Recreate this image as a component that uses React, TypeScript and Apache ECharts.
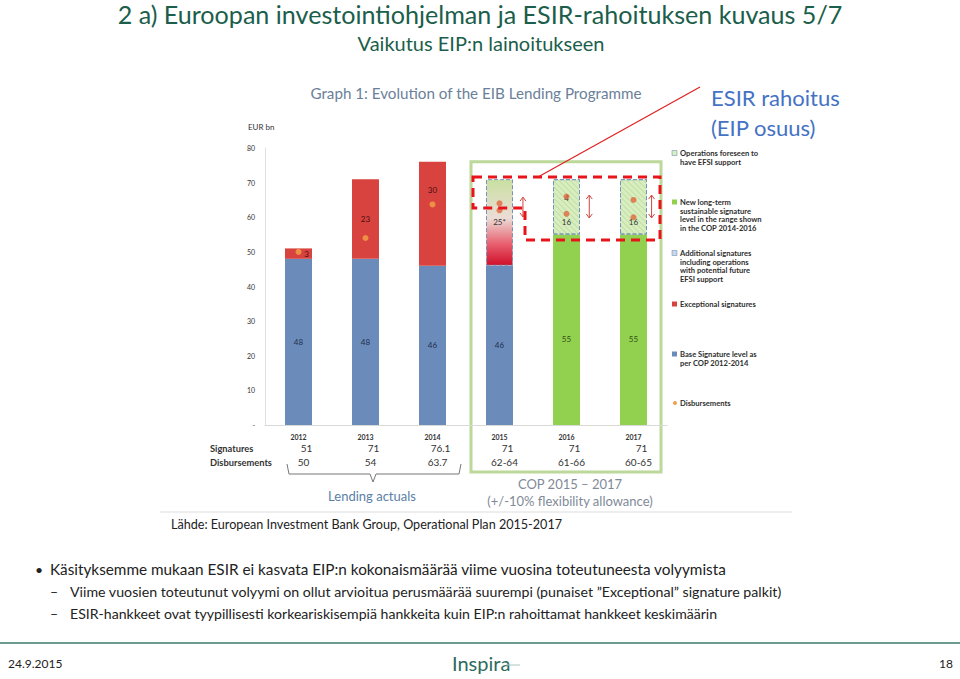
import React, { useEffect, useRef } from "react";
import * as echarts from "echarts";

const years = ["2012", "2013", "2014", "2015", "2016", "2017"];
const baseLevel = [48, 48, 46, 46, null, null];
const newLongTerm = [null, null, null, null, 55, 55];
const exceptional = [3, 23, 30, null, null, null];
const additional = [null, null, null, 25, null, null];
const foreseen = [null, null, null, null, 16, 16];
const disbursementPoints: [number, number][] = [
  [0, 50], [1, 54], [2, 63.7], [3, 62], [3, 64], [4, 61], [4, 66], [5, 60], [5, 65],
];
const signaturesRow = ["51", "71", "76.1", "71", "71", "71"];
const disbursementsRow = ["50", "54", "63.7", "62-64", "61-66", "60-65"];
const yTicks = [0, 10, 20, 30, 40, 50, 60, 70, 80];

const FONT = "Lato, 'Open Sans', sans-serif";
const GL = 265, GT = 148, GW = 402, GH = 277;
const px = (i: number) => GL + GW / 6 / 2 + (GW / 6) * i;
const py = (v: number) => GT + GH - (v / 80) * GH;

function txt(text: string, x: number, y: number, size: number, fill: string, opts: any = {}) {
  return {
    type: "text",
    x,
    y,
    silent: true,
    style: {
      text,
      fill,
      fontSize: size,
      fontFamily: opts.family || FONT,
      fontWeight: opts.weight || "normal",
      textAlign: opts.align || "left",
      textVerticalAlign: "middle",
    },
  };
}

function arrow(i: number, v1: number, v2: number) {
  const x = px(i);
  const y1 = py(v2), y2 = py(v1);
  const c = "#d0453f";
  return [
    { type: "line", shape: { x1: x, y1, x2: x, y2 }, style: { stroke: c, lineWidth: 1 } },
    { type: "polyline", shape: { points: [[x - 3, y1 + 4], [x, y1], [x + 3, y1 + 4]] }, style: { stroke: c, lineWidth: 1, fill: "none" } },
    { type: "polyline", shape: { points: [[x - 3, y2 - 4], [x, y2], [x + 3, y2 - 4]] }, style: { stroke: c, lineWidth: 1, fill: "none" } },
  ];
}

export default function App() {
  const ref = useRef<HTMLDivElement>(null);
  useEffect(() => {
    if (!ref.current) return;
    const chart = echarts.init(ref.current, null, { renderer: "svg" });
    const hatchDecal = {
      symbol: "rect",
      symbolSize: 1,
      color: "rgba(110,170,60,0.22)",
      dashArrayX: [1, 0],
      dashArrayY: [1, 2.5],
      rotation: Math.PI / 4,
    };
    const dashedBorder = { borderColor: "#7593b8", borderType: "dashed", borderWidth: 1 };

    const legendItems: { lines: string[]; y: number; marker: any }[] = [
      { lines: ["Operations foreseen to", "have EFSI support"], y: 153, marker: { fill: "#d8eec0", stroke: "#7593b8" } },
      { lines: ["New long-term", "sustainable signature", "level in the range shown", "in the COP 2014-2016"], y: 202, marker: { fill: "#92d050" } },
      { lines: ["Additional signatures", "including operations", "with potential future", "EFSI support"], y: 253, marker: { fill: "#c9d6ea", stroke: "#7593b8" } },
      { lines: ["Exceptional signatures"], y: 304, marker: { fill: "#d9433f" } },
      { lines: ["Base Signature level as", "per COP 2012-2014"], y: 354, marker: { fill: "#6b8cba" } },
      { lines: ["Disbursements"], y: 403, marker: { fill: "#f0a050", circle: true } },
    ];
    const legendGraphics: any[] = [];
    legendItems.forEach((it) => {
      if (it.marker.circle) {
        legendGraphics.push({ type: "circle", shape: { cx: 675, cy: it.y, r: 2 }, style: { fill: it.marker.fill } });
      } else {
        legendGraphics.push({
          type: "rect",
          shape: { x: 672, y: it.y - 2.5, width: 5, height: 5 },
          style: { fill: it.marker.fill, stroke: it.marker.stroke || null, lineWidth: 0.6 },
        });
      }
      it.lines.forEach((l, k) => legendGraphics.push(txt(l, 680, it.y + k * 8.6, 7.6, "#2e2e2e", { weight: "bold" })));
    });

    const tableGraphics: any[] = [];
    tableGraphics.push(txt("Signatures", 210, 448, 9.3, "#333", { weight: "bold" }));
    tableGraphics.push(txt("Disbursements", 210, 462, 9.3, "#333", { weight: "bold" }));
    years.forEach((_, i) => {
      tableGraphics.push(txt(signaturesRow[i], px(i) + 8, 448, 10, "#333", { align: "center" }));
      tableGraphics.push(txt(disbursementsRow[i], px(i) + 5, 462, 10, "#333", { align: "center" }));
    });

    const esirPoly = [
      [473, py(71.6)], [660, py(71.6)], [660, py(53.4)], [525, py(53.4)], [525, py(62.7)], [473, py(62.7)],
    ];

    chart.setOption({
      animation: false,
      backgroundColor: "#ffffff",
      grid: { left: GL, top: GT, width: GW, height: GH },
      xAxis: {
        type: "category",
        data: years,
        axisLine: { lineStyle: { color: "#d9d9d9" } },
        axisTick: { show: false },
        axisLabel: { fontSize: 7, fontWeight: "bold", color: "#333", fontFamily: FONT, margin: 8 },
      },
      yAxis: {
        type: "value",
        min: 0,
        max: 80,
        interval: 10,
        axisLine: { show: true, lineStyle: { color: "#e0e0e0" } },
        splitLine: { show: false },
        axisTick: { show: false },
        axisLabel: {
          fontSize: 7,
          color: "#333",
          fontFamily: FONT,
          margin: 10,
          formatter: (v: number) => (v === 0 ? "-" : yTicks.includes(v) ? String(v) : ""),
        },
      },
      series: [
        {
          name: "Base Signature level as per COP 2012-2014",
          type: "bar",
          stack: "t",
          barWidth: 27,
          data: baseLevel,
          itemStyle: { color: "#6b8cba" },
          label: { show: true, position: "inside", fontSize: 8, color: "#1f2f50", fontFamily: FONT },
        },
        {
          name: "New long-term sustainable signature level",
          type: "bar",
          stack: "t",
          barWidth: 27,
          data: newLongTerm,
          itemStyle: { color: "#92d050" },
          label: { show: true, position: "inside", offset: [0, 9], fontSize: 8, color: "#2f4f10", fontFamily: FONT },
        },
        {
          name: "Exceptional signatures",
          type: "bar",
          stack: "t",
          barWidth: 27,
          data: exceptional.map((v, i) =>
            v == null
              ? null
              : {
                  value: v,
                  label: { offset: i === 0 ? [8, 0] : i === 2 ? [0, -24] : [0, 0] },
                }
          ),
          itemStyle: { color: "#d9433f" },
          label: { show: true, position: "inside", fontSize: 8, color: "#4a1010", fontFamily: FONT },
        },
        {
          name: "Additional signatures",
          type: "bar",
          stack: "t",
          barWidth: 27,
          data: additional,
          itemStyle: {
            ...dashedBorder,
            color: {
              type: "linear",
              x: 0, y: 0, x2: 0, y2: 1,
              colorStops: [
                { offset: 0, color: "#c9e0a2" },
                { offset: 0.45, color: "#ecdcd6" },
                { offset: 0.75, color: "#e86070" },
                { offset: 1, color: "#d0102a" },
              ],
            },
          },
          label: { show: true, position: "inside", fontSize: 8, color: "#333", fontFamily: FONT, formatter: "{c}*" },
        },
        {
          name: "Operations foreseen to have EFSI support",
          type: "bar",
          stack: "t",
          barWidth: 27,
          data: foreseen.map((v, i) =>
            v == null
              ? null
              : {
                  value: v,
                  label: { formatter: i === 4 ? "4\n{c}" : "\n{c}" },
                }
          ),
          itemStyle: { ...dashedBorder, color: "#d8eec0", decal: hatchDecal },
          label: { show: true, position: "inside", offset: [0, 3], lineHeight: 24, fontSize: 8, color: "#333", fontFamily: FONT },
        },
        {
          name: "Disbursements",
          type: "scatter",
          symbolSize: 6,
          z: 5,
          data: disbursementPoints.map((p) => ({
            value: p,
            itemStyle: { color: p[0] < 3 ? "#f3a445" : "#e0663f" },
          })),
        },
      ],
      graphic: [
        // slide title
        txt("2 a) Euroopan investointiohjelman ja ESIR-rahoituksen kuvaus 5/7", 480, 14, 25.1, "#1b5e4b", { align: "center" }),
        txt("Vaikutus EIP:n lainoitukseen", 481, 43, 20, "#1b5e4b", { align: "center" }),
        // chart image title
        txt("Graph 1: Evolution of the EIB Lending Programme", 476, 93, 15.2, "#6b7f99", { align: "center" }),
        txt("EUR bn", 248, 127, 8, "#333"),
        // COP box
        {
          type: "rect",
          shape: { x: 471, y: py(76), width: 190, height: 472 - py(76) },
          style: { fill: "none", stroke: "#bcd89a", lineWidth: 3 },
        },
        ...arrow(3.35, 60.1, 65.8),
        ...arrow(4.34, 59.8, 66.4),
        ...arrow(5.27, 59.8, 66.4),
        // ESIR dashed polygon
        {
          type: "polygon",
          shape: { points: esirPoly },
          style: { fill: "none", stroke: "#e8141c", lineWidth: 3, lineDash: [9, 6] },
          z: 100,
        },
        {
          type: "line",
          shape: { x1: 538, y1: py(71.6), x2: 700, y2: 87 },
          style: { stroke: "#e02020", lineWidth: 1.2 },
          z: 100,
        },
        txt("ESIR rahoitus", 711, 97, 22, "#4472c4"),
        txt("(EIP osuus)", 711, 127, 22, "#4472c4"),
        ...legendGraphics,
        ...tableGraphics,
        // brace
        {
          type: "polyline",
          shape: { points: [[287, 464], [289, 474], [370, 474], [373, 482], [376, 474], [459, 474], [461, 464]] },
          style: { stroke: "#777", lineWidth: 1, fill: "none" },
        },
        txt("Lending actuals", 372, 496, 13, "#5a7fa8", { align: "center" }),
        txt("COP 2015 \u2013 2017", 570, 484, 13, "#7f8a98", { align: "center" }),
        txt("(+/-10% flexibility allowance)", 570, 501, 13, "#7f8a98", { align: "center" }),
        {
          type: "line",
          shape: { x1: 160, y1: 512, x2: 792, y2: 512 },
          style: { stroke: "#dddddd", lineWidth: 1 },
        },
        txt("Lähde: European Investment Bank Group, Operational Plan 2015-2017", 171, 524, 12.6, "#222"),
        txt("\u2022", 35, 569, 14, "#222"),
        txt("Käsityksemme mukaan ESIR ei kasvata EIP:n kokonaismäärää viime vuosina toteutuneesta volyymista", 50, 569, 15.3, "#222"),
        txt("\u2013", 50, 591, 14, "#222"),
        txt("Viime vuosien toteutunut volyymi on ollut arvioitua perusmäärää suurempi (punaiset \u201dExceptional\u201d signature palkit)", 70, 591, 14.2, "#222"),
        txt("\u2013", 50, 613, 14, "#222"),
        txt("ESIR-hankkeet ovat tyypillisesti korkeariskisempiä hankkeita kuin EIP:n rahoittamat hankkeet keskimäärin", 70, 613, 14.1, "#222"),
        // footer
        {
          type: "line",
          shape: { x1: 0, y1: 643, x2: 960, y2: 643 },
          style: { stroke: "#3c7a6a", lineWidth: 1.5 },
        },
        txt("24.9.2015", 8, 663, 12, "#222"),
        txt("Inspira", 452, 663, 20, "#2e6b5e"),
        {
          type: "line",
          shape: { x1: 506, y1: 665, x2: 520, y2: 665 },
          style: { stroke: "#a9c6be", lineWidth: 1 },
        },
        txt("18", 953, 663, 12, "#222", { align: "right" }),
      ],
    });
    return () => chart.dispose();
  }, []);
  return (
    <div
      ref={ref}
      style={{ position: "absolute", left: 0, top: 0, width: 960, height: 679, background: "#fff" }}
    />
  );
}
